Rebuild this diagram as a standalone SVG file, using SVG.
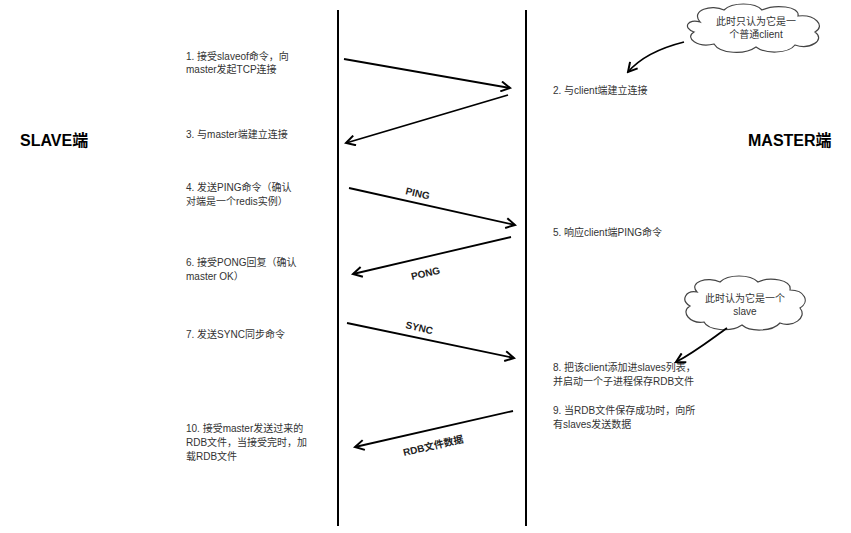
<svg xmlns="http://www.w3.org/2000/svg" width="851" height="533" viewBox="0 0 851 533">
<defs>
<marker id="ah" markerWidth="12" markerHeight="12" refX="10" refY="6" orient="auto" markerUnits="userSpaceOnUse">
<path d="M1,1 L10,6 L1,11" fill="none" stroke="#000" stroke-width="2"/>
</marker>
<style>
text{font-family:"Liberation Sans","Noto Sans CJK SC",sans-serif;font-size:10px;fill:#333}
.big{font-size:16px;font-weight:bold;fill:#000}
.lbl{font-size:10px;font-weight:bold;fill:#222}
.ar{stroke:#000;stroke-width:1.8;fill:none;marker-end:url(#ah)}
.cloud{fill:#fff;stroke:#444;stroke-width:1.2}
</style>
</defs>
<rect width="851" height="533" fill="#fff"/>
<g id="lifelines">
<line x1="338" y1="10" x2="338" y2="526" stroke="#000" stroke-width="2"/>
<line x1="526" y1="10" x2="526" y2="526" stroke="#000" stroke-width="2"/>
</g>
<g id="slave"><text class="big" x="20" y="146">SLAVE端</text></g>
<g id="master"><text class="big" x="748" y="146">MASTER端</text></g>
<g id="left-steps">
<text x="186" y="60">1. 接受slaveof命令，向</text>
<text x="186" y="73">master发起TCP连接</text>
<text x="186" y="138">3. 与master端建立连接</text>
<text x="186" y="191">4. 发送PING命令（确认</text>
<text x="186" y="205">对端是一个redis实例）</text>
<text x="186" y="266">6. 接受PONG回复（确认</text>
<text x="186" y="280">master OK）</text>
<text x="186" y="338">7. 发送SYNC同步命令</text>
<text x="186" y="432">10. 接受master发送过来的</text>
<text x="186" y="446">RDB文件，当接受完时，加</text>
<text x="186" y="460">载RDB文件</text>
</g>
<g id="right-steps">
<text x="553" y="94">2. 与client端建立连接</text>
<text x="553" y="236">5. 响应client端PING命令</text>
<text x="553" y="371">8. 把该client添加进slaves列表，</text>
<text x="553" y="385">并启动一个子进程保存RDB文件</text>
<text x="553" y="414">9. 当RDB文件保存成功时，向所</text>
<text x="553" y="428">有slaves发送数据</text>
</g>
<g id="cloud1">
<path class="cloud" d="M700,22 C690,10 712,4 724,10 C732,2 755,2 762,10 C775,4 800,6 798,16 C815,14 826,26 815,32 C826,40 810,50 795,45 C788,54 765,54 756,47 C745,55 720,54 714,44 C698,48 684,38 694,32 C682,28 688,18 700,22 Z"/>
<text x="756" y="25" text-anchor="middle">此时只认为它是一</text>
<text x="756" y="38" text-anchor="middle">个普通client</text>
</g>
<g id="cloud2">
<path class="cloud" d="M697,292 C688,282 708,276 720,282 C728,274 750,274 758,282 C770,276 792,280 790,290 C805,290 810,302 800,308 C808,318 792,328 780,323 C772,332 750,332 742,325 C730,333 708,330 704,322 C690,324 680,312 690,306 C680,300 686,290 697,292 Z"/>
<text x="745" y="302" text-anchor="middle">此时认为它是一个</text>
<text x="745" y="315" text-anchor="middle">slave</text>
</g>
<g id="connectors">
<line class="ar" x1="344" y1="59" x2="510" y2="88"/>
<line class="ar" x1="508" y1="95" x2="346" y2="143"/>
<line class="ar" x1="349" y1="188" x2="515" y2="225"/>
<line class="ar" x1="511" y1="237" x2="353" y2="274"/>
<line class="ar" x1="347" y1="323" x2="514" y2="358"/>
<line class="ar" x1="513" y1="411" x2="355" y2="447"/>
<path class="ar" d="M684,42 C660,48 640,58 628,72"/>
<path class="ar" d="M727,328 C710,340 695,352 676,362"/>
<text class="lbl" x="405" y="194" transform="rotate(13 405 194)">PING</text>
<text class="lbl" x="412" y="280" transform="rotate(-13 412 280)">PONG</text>
<text class="lbl" x="405" y="328" transform="rotate(13 405 328)">SYNC</text>
<text class="lbl" x="404" y="456" transform="rotate(-13 404 456)">RDB文件数据</text>
</g>
</svg>
